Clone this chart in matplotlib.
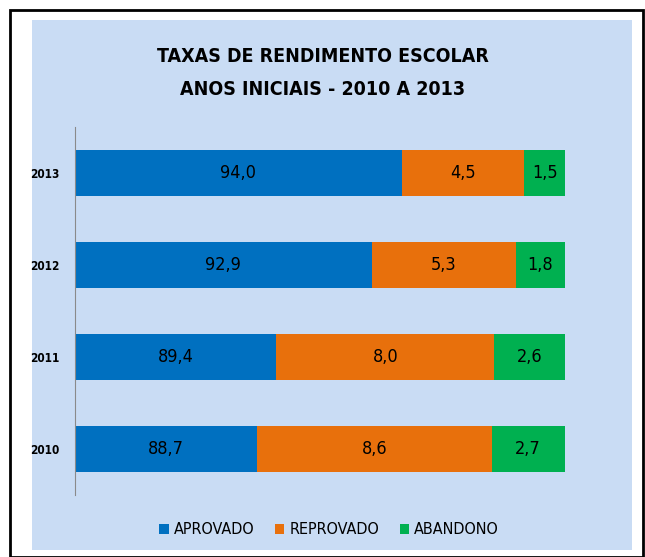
import matplotlib.pyplot as plt
from matplotlib.patches import Rectangle

plt.rcParams['font.family'] = ['DejaVu Sans']
plt.rcParams['font.stretch'] = 'condensed'

anos = ['2010', '2011', '2012', '2013']
aprovado = [88.7, 89.4, 92.9, 94.0]
reprovado = [8.6, 8.0, 5.3, 4.5]
abandono = [2.7, 2.6, 1.8, 1.5]

W, H = 645, 557
fig = plt.figure(figsize=(W / 100, H / 100), dpi=100)
fig.patch.set_facecolor('white')

# outer frame and light blue panel
fig.patches.append(Rectangle((10 / W, 0), 633 / W, 1 - 10 / H, transform=fig.transFigure,
                             fill=False, edgecolor='black', linewidth=2, zorder=-2))
fig.patches.append(Rectangle((32 / W, 7 / H), 600 / W, 1 - 27 / H, transform=fig.transFigure,
                             facecolor='#c9dcf4', edgecolor='none', zorder=-1))

ax = fig.add_axes([75 / W, 1 - 495 / H, 490 / W, 368 / H])
ax.set_facecolor('none')
ax.set_zorder(1)

y = range(len(anos))
h = 0.51
b1 = ax.barh(y, aprovado, height=h, color='#0070c0', left=0)
b2 = ax.barh(y, reprovado, height=h, color='#e8700c', left=aprovado)
left3 = [a + r for a, r in zip(aprovado, reprovado)]
b3 = ax.barh(y, abandono, height=h, color='#00b050', left=left3)

ax.set_xlim(82, 100)
ax.set_ylim(-0.5, 3.5)

for i in y:
    ax.text((82 + aprovado[i]) / 2, i, f'{aprovado[i]:.1f}'.replace('.', ','),
            ha='center', va='center', fontsize=13)
    ax.text(aprovado[i] + reprovado[i] / 2, i, f'{reprovado[i]:.1f}'.replace('.', ','),
            ha='center', va='center', fontsize=13)
    ax.text(left3[i] + abandono[i] / 2, i, f'{abandono[i]:.1f}'.replace('.', ','),
            ha='center', va='center', fontsize=13)

ax.set_yticks(list(y))
ax.set_yticklabels(anos, fontsize=8.5, fontweight='bold')
ax.tick_params(axis='y', length=0, pad=11)
ax.set_xticks([])
for s in ['top', 'right', 'bottom']:
    ax.spines[s].set_visible(False)
ax.spines['left'].set_color('#8a8a8a')
ax.spines['left'].set_linewidth(0.8)

fig.text(0.5, 1 - 56 / H, 'TAXAS DE RENDIMENTO ESCOLAR', ha='center', va='center',
         fontsize=14, fontweight='bold')
fig.text(0.5, 1 - 90 / H, 'ANOS INICIAIS - 2010 A 2013', ha='center', va='center',
         fontsize=14, fontweight='bold')

fig.legend([b1, b2, b3], ['APROVADO', 'REPROVADO', 'ABANDONO'], loc='center',
           bbox_to_anchor=(0.51, 1 - 530 / H), ncol=3, frameon=False, fontsize=11.5,
           handlelength=0.6, handleheight=0.6, handletextpad=0.3, columnspacing=1.3)

fig.savefig('out.png', dpi=100)
